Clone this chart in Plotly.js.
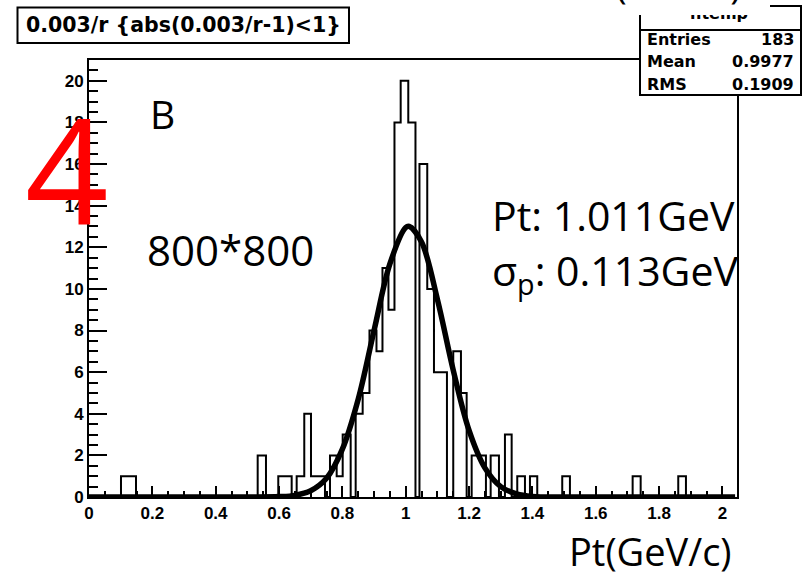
<!DOCTYPE html>
<html>
<head>
<meta charset="utf-8">
<script src="https://cdn.plot.ly/plotly-3.0.1.min.js"></script>
<style>html,body{margin:0;padding:0;background:#fff;}#chart{width:808px;height:575px;}</style>
</head>
<body>
<div id="chart"></div>
<script>
// ---- data ----
const binLo = [0.1010, 0.1247, 0.5326, 0.5976, 0.6188, 0.6557, 0.6797, 0.7009, 0.7230, 0.7609, 0.7820, 0.8010, 0.8420, 0.8641, 0.8856, 0.9077, 0.9266, 0.9455, 0.9645, 0.9841, 1.0081, 1.0434, 1.0680, 1.0892, 1.1097, 1.1501, 1.1744, 1.2082, 1.2312, 1.2682, 1.3133, 1.3522, 1.3923, 1.4942, 1.7165, 1.8605];
const binHi = [0.1247, 0.1484, 0.5588, 0.6188, 0.6399, 0.6797, 0.7009, 0.7230, 0.7451, 0.7820, 0.8010, 0.8262, 0.8641, 0.8856, 0.9077, 0.9266, 0.9455, 0.9645, 0.9841, 1.0081, 1.0308, 1.0680, 1.0892, 1.1097, 1.1302, 1.1744, 1.1924, 1.2312, 1.2533, 1.2944, 1.3345, 1.3765, 1.4153, 1.5185, 1.7418, 1.8848];
const binCount = [1, 1, 2, 1, 1, 1, 4, 1, 1, 2, 1, 3, 4, 5, 8, 7, 11, 9, 18, 20, 18, 16, 10, 6, 6, 7, 5, 2, 2, 2, 3, 1, 1, 1, 1, 1];

const fitX = [0, 0.50, 0.60, 0.65, 0.70, 0.75, 0.80, 0.85, 0.90, 0.95, 1.00, 1.011, 1.05, 1.10, 1.15, 1.20, 1.25, 1.30, 1.35, 1.40, 1.50, 2.04];
const fitY = [0, 0, 0.02, 0.08, 0.30, 0.90, 2.3, 4.7, 8.0, 11.2, 12.95, 13.0, 12.25, 9.5, 6.1, 3.2, 1.4, 0.5, 0.15, 0.03, 0, 0];

const xTickVals = [0, 0.2, 0.4, 0.6, 0.8, 1.0, 1.2, 1.4, 1.6, 1.8, 2.0];
const xTickText = ["0", "0.2", "0.4", "0.6", "0.8", "1", "1.2", "1.4", "1.6", "1.8", "2"];

const statLabels = ["Entries", "Mean", "RMS"];
const statValues = ["183", "0.9977", "0.1909"];

// ---- build histogram outline (step polyline) ----
const hx = [], hy = [];
let prevHi = null;
for (let i = 0; i < binLo.length; i++) {
  if (prevHi === null) { hx.push(binLo[i]); hy.push(0); }
  else if (Math.abs(binLo[i] - prevHi) > 1e-6) {
    hx.push(prevHi); hy.push(0);
    hx.push(binLo[i]); hy.push(0);
  }
  hx.push(binLo[i]); hy.push(binCount[i]);
  hx.push(binHi[i]); hy.push(binCount[i]);
  prevHi = binHi[i];
}
hx.push(prevHi); hy.push(0);

// ---- pixel helpers for layout placement ----
const PL = 89, PR = 737, PT = 60, PB = 497;
const px = v => (v - PL) / (PR - PL);
const py = v => (PB - v) / (PB - PT);

const ROOTF = "DejaVu Sans, sans-serif";
const TICKF = "Liberation Sans, Arial, sans-serif";
const SLIDEF = "Open Sans, sans-serif";

const traces = [
  {x: hx, y: hy, type: 'scatter', mode: 'lines', line: {color: '#000', width: 2, shape: 'linear'}, hoverinfo: 'skip'},
  {x: fitX, y: fitY, type: 'scatter', mode: 'lines', line: {color: '#000', width: 5.5, shape: 'spline', smoothing: 1}, hoverinfo: 'skip'}
];

const ann = [];
function A(o) { ann.push(Object.assign({xref: 'paper', yref: 'paper', showarrow: false}, o)); }

A({x: px(183), y: py(25), text: "0.003/r {abs(0.003/r-1)&lt;1}", xanchor: 'center', yanchor: 'middle',
   font: {family: ROOTF, size: 20.5, weight: 'bold', color: '#000'}});
statLabels.forEach((s, i) => {
  A({x: px(645), y: py(40 + 22 * i), text: s, xanchor: 'left', yanchor: 'middle', font: {family: ROOTF, size: 16, weight: 'bold', color: '#000'}});
  A({x: px(796), y: py(40 + 22 * i), text: statValues[i], xanchor: 'right', yanchor: 'middle', font: {family: ROOTF, size: 16, weight: 'bold', color: '#000'}});
});
A({x: px(719), y: py(13), text: "htemp", xanchor: 'center', yanchor: 'middle', font: {family: ROOTF, size: 16, weight: 'bold', color: '#000'}});
// white text box that hides the top of the stats box
A({x: px(550), y: py(15), text: "&nbsp;", xanchor: 'left', yanchor: 'bottom', width: 220, height: 40, bgcolor: '#fff', borderpad: 0, borderwidth: 0});
A({x: px(660), y: py(-16), text: "Pt(GeV/c)", xanchor: 'center', yanchor: 'middle', font: {family: SLIDEF, size: 38, color: '#000'}});

A({x: px(148), y: py(113), text: "B", xanchor: 'left', yanchor: 'middle', font: {family: SLIDEF, size: 39, color: '#000'}});
A({x: px(145), y: py(249), text: "800*800", xanchor: 'left', yanchor: 'middle', font: {family: SLIDEF, size: 42, color: '#000'}});
A({x: px(490), y: py(215), text: "Pt: 1.011GeV", xanchor: 'left', yanchor: 'middle', font: {family: SLIDEF, size: 41, color: '#000'}});
A({x: px(490), y: py(272), text: "σ<sub>p</sub>: 0.113GeV", xanchor: 'left', yanchor: 'middle', font: {family: SLIDEF, size: 41, color: '#000'}});
A({x: px(650), y: py(551), text: "Pt(GeV/c)", xanchor: 'center', yanchor: 'middle', font: {family: SLIDEF, size: 38, color: '#000'}});
A({x: px(66), y: py(167), text: "4", xanchor: 'center', yanchor: 'middle', font: {family: SLIDEF, size: 146, color: '#ff0000'}});

const shapes = [
  {type: 'rect', xref: 'paper', yref: 'paper', x0: px(17.5), x1: px(349), y0: py(7.5), y1: py(43), line: {color: '#000', width: 2}, fillcolor: 'rgba(0,0,0,0)', layer: 'above'},
  {type: 'rect', xref: 'paper', yref: 'paper', x0: px(640), x1: px(801), y0: py(6), y1: py(95), line: {color: '#000', width: 2}, fillcolor: '#fff', layer: 'above'},
  {type: 'line', xref: 'paper', yref: 'paper', x0: px(640), x1: px(801), y0: py(30), y1: py(30), line: {color: '#000', width: 2}, layer: 'above'}
];

const layout = {
  width: 808, height: 575,
  margin: {l: PL, r: 808 - PR, t: PT, b: 575 - PB, pad: 0},
  paper_bgcolor: '#fff', plot_bgcolor: '#fff',
  showlegend: false,
  xaxis: {
    range: [0, 2.046], showgrid: false, zeroline: false,
    showline: true, linecolor: '#000', linewidth: 2, mirror: true,
    ticks: 'inside', ticklen: 11, tickwidth: 2, tickcolor: '#000',
    tickvals: xTickVals, ticktext: xTickText,
    tickfont: {family: TICKF, size: 17, weight: 'bold', color: '#000'},
    minor: {dtick: 0.05, ticks: 'inside', ticklen: 6, tickwidth: 2, tickcolor: '#000'}
  },
  yaxis: {
    range: [0, 21], showgrid: false, zeroline: false,
    showline: true, linecolor: '#000', linewidth: 2, mirror: true,
    ticks: 'inside', ticklen: 18, tickwidth: 2, tickcolor: '#000',
    tick0: 0, dtick: 2,
    tickfont: {family: TICKF, size: 17, weight: 'bold', color: '#000'},
    minor: {dtick: 0.5, ticks: 'inside', ticklen: 9, tickwidth: 2, tickcolor: '#000'}
  },
  annotations: ann,
  shapes: shapes
};

Plotly.newPlot('chart', traces, layout, {displayModeBar: false, staticPlot: true});
</script>
</body>
</html>
